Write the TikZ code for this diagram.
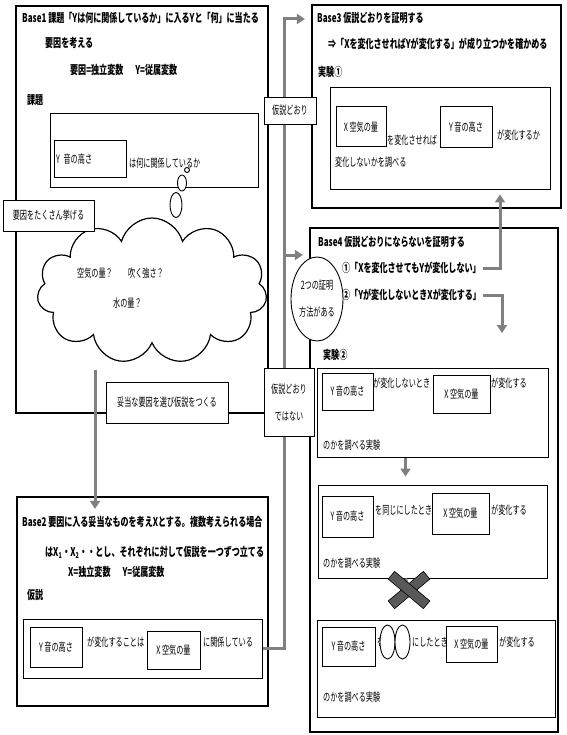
\documentclass[tikz,border=0pt]{standalone}
\usepackage{fontspec}
\newfontfamily\jpfont[FakeStretch=0.62]{Noto Sans CJK JP}
\newfontfamily\jpheadfont[FakeStretch=0.67]{Noto Sans CJK JP}
\usetikzlibrary{arrows.meta,positioning,fit,shapes.geometric,shapes.symbols}

\begin{document}
\begin{tikzpicture}[
    x=1pt, y=-1pt,
    font=\jpfont\fontsize{11.5}{13}\selectfont,
    % Stili
    basebox/.style={draw=black, line width=2.2pt, inner sep=0pt},
    innerbox/.style={draw=black, line width=1pt, inner sep=0pt},
    varbox/.style={draw=black, line width=1pt, fill=white, inner sep=2pt},
    labelbox/.style={draw=black, line width=0.6pt, fill=white, align=center, inner sep=2pt},
    head/.style={anchor=west, inner sep=0pt, font=\jpheadfont\bfseries\fontsize{12}{14}\selectfont},
    txt/.style={anchor=west, inner sep=0pt},
    bubble/.style={ellipse, draw=black, line width=0.9pt, fill=white, inner sep=0pt},
    gline/.style={draw=gray, line width=3pt},
    garrow/.style={gline, -{Triangle[length=8pt,width=10pt]}, shorten >=5pt},
    nobar/.style={rectangle, draw=black, line width=0.6pt, fill=gray!70!black, minimum width=46pt, minimum height=10pt}
  ]
  \useasboundingbox (0,0) rectangle (566,735);

  % Base1
  \node (base1) [basebox, fit={(16,6)(268,413)}] {};
  \node (b1h1) [head] at (22,18) {Base1\ 課題「Yは何に関係しているか」に入るYと「何」に当たる};
  \node (b1h2) [head] at (45,43) {要因を考える};
  \node (b1h3) [head] at (70,70) {要因=独立変数\quad Y=従属変数};
  \node (b1h4) [head] at (27,100) {課題};
  \node (task) [innerbox, fit={(50,114)(258,188)}] {};
  \node (task_y) [varbox, text width=68pt, minimum height=37pt] at (90,159) {Y\ 音の高さ};
  \node (task_q) [txt] at (129,163) {は何に関係しているか};

  % Nuvola
  \node (cloud) [cloud, cloud puffs=11, aspect=1.6, draw=black, line width=1.2pt, fill=white,
    minimum width=230pt, minimum height=146pt] at (152,291) {};
  \node (idea1) [txt] at (77,273) {空気の量？};
  \node (idea2) [txt] at (128,273) {吹く強さ？};
  \node (idea3) [txt] at (113,303) {水の量？};
  \node (bub1) [bubble, minimum width=5pt, minimum height=5pt] at (187,170) {};
  \node (bub2) [bubble, minimum width=9pt, minimum height=16pt] at (182,183) {};
  \node (bub3) [bubble, minimum width=12pt, minimum height=25pt] at (176,205) {};

  % Base2
  \node (base2) [basebox, fit={(17,497)(268,706)}] {};
  \node (b2h1) [head] at (22,522) {Base2\ 要因に入る妥当なものを考えXとする。複数考えられる場合};
  \node (b2h2) [head] at (45,552) {はX\textsubscript{1}・X\textsubscript{2}・・とし、それぞれに対して仮説を一つずつ立てる};
  \node (b2h3) [head] at (68,572) {X=独立変数\quad Y=従属変数};
  \node (b2h4) [head] at (27,595) {仮説};
  \node (hyp) [innerbox, fit={(23,619)(262,678)}] {};
  \node (hyp_y) [varbox, minimum width=52pt, minimum height=40pt] at (56,647) {Y\ 音の高さ};
  \node (hyp_t1) [txt] at (87,642) {が変化することは};
  \node (hyp_x) [varbox, minimum width=53pt, minimum height=38pt] at (173.5,650) {X\ 空気の量};
  \node (hyp_t2) [txt] at (203,642) {に関係している};

  % Base3
  \node (base3) [basebox, fit={(312,5)(561,208)}] {};
  \node (b3h1) [head] at (317,18) {Base3\ 仮説どおりを証明する};
  \node (b3h2) [head] at (328,44) {⇒「Xを変化させればYが変化する」が成り立つかを確かめる};
  \node (b3h3) [head] at (318,72) {実験①};
  \node (exp1) [innerbox, fit={(330,88)(550,190)}] {};
  \node (exp1_x) [varbox, minimum width=50pt, minimum height=40pt] at (361,127) {X\ 空気の量};
  \node (exp1_t1) [txt] at (387,140) {を変化させれば};
  \node (exp1_y) [varbox, minimum width=52pt, minimum height=41pt] at (466,127.5) {Y\ 音の高さ};
  \node (exp1_t2) [txt] at (497,135) {が変化するか};
  \node (exp1_t3) [txt] at (335,162) {変化しないかを調べる};

  % Base4
  \node (base4) [basebox, fit={(310,228)(558,732)}] {};
  \node (b4h1) [head] at (318,242) {Base4\ 仮説どおりにならないを証明する};
  \node (p1) [head] at (342,268) {①「Xを変化させてもYが変化しない」};
  \node (p2) [head] at (342,295) {②「Yが変化しないときXが変化する」};
  \node (b4h2) [head] at (323,355) {実験②};
  \node (two) [bubble, minimum width=52pt, minimum height=84pt, align=center] at (317,299) {2つの証明\\[14pt]方法がある};

  \node (e2a) [innerbox, fit={(317,368)(548,457)}] {};
  \node (e2a_y) [varbox, minimum width=51pt, minimum height=37pt] at (347.5,391.5) {Y\ 音の高さ};
  \node (e2a_t1) [txt] at (373,383) {が変化しないとき};
  \node (e2a_x) [varbox, minimum width=57pt, minimum height=38pt] at (461.5,394) {X\ 空気の量};
  \node (e2a_t2) [txt] at (491,383) {が変化する};
  \node (e2a_t3) [txt] at (323,445) {のかを調べる実験};

  \node (e2b) [innerbox, fit={(318,485)(547,578)}] {};
  \node (e2b_y) [varbox, minimum width=51pt, minimum height=41pt] at (347.5,516.5) {Y\ 音の高さ};
  \node (e2b_t1) [txt] at (375,510) {を同じにしたとき};
  \node (e2b_x) [varbox, minimum width=57pt, minimum height=41pt] at (460.5,513.5) {X\ 空気の量};
  \node (e2b_t2) [txt] at (491,510) {が変化する};
  \node (e2b_t3) [txt] at (323,563) {のかを調べる実験};

  \node (e2c) [innerbox, fit={(317,620)(555,717)}] {};
  \node (e2c_y) [varbox, minimum width=53pt, minimum height=39pt] at (348.5,646.5) {Y\ 音の高さ};
  \node (e2c_t1) [txt] at (377,642) {を};
  \node (blank1) [bubble, minimum width=15pt, minimum height=34pt] at (387.5,642) {};
  \node (blank2) [bubble, minimum width=15pt, minimum height=34pt] at (402.5,642) {};
  \node (e2c_t2) [txt] at (412,642) {にしたとき};
  \node (e2c_x) [varbox, minimum width=51pt, minimum height=36pt] at (471.5,644) {X\ 空気の量};
  \node (e2c_t3) [txt] at (499,642) {が変化する};
  \node (e2c_t4) [txt] at (323,697) {のかを調べる実験};

  % Collegamenti
  \coordinate (pick) at (95,370);
  \coordinate (trunk) at (284,19);
  \coordinate (fork) at (284,255);
  \coordinate (p2end) at (502,333);
  \node (nope) at (409,590) {};

  \draw [garrow, shorten >=0pt] (pick) -- ([yshift=-13pt]pick |- base2.north);
  \draw [garrow, shorten >=6pt] (hyp.east) -| (trunk) -- (trunk -| base3.west);
  \draw [garrow, shorten >=6pt] (fork) -- (fork -| base4.west);
  \draw [garrow, shorten >=4pt] ([xshift=2pt]p1.east) -| ([xshift=60pt]exp1.south);
  \draw [garrow, shorten >=0pt] ([xshift=2pt]p2.east) -| (p2end);
  \draw [garrow, shorten >=8pt] ([xshift=-27pt]e2a.south) -- ([xshift=-27pt]e2b.north);
  \draw [gline] ([xshift=-27pt]e2b.south) -- (nope.center);
  \node (nope1) [nobar, rotate=40] at (nope) {};
  \node (nope2) [nobar, rotate=-40] at (nope) {};

  % Etichette
  \node (many) [labelbox, minimum width=91pt, minimum height=31pt] at (48.5,215.5) {要因をたくさん挙げる};
  \node (choose) [labelbox, minimum width=122pt, minimum height=41pt] at (167,402.5) {妥当な要因を選び仮説をつくる};
  \node (yes) [labelbox, minimum width=52pt, minimum height=27pt] at (290,110.5) {仮説どおり};
  \node (no) [labelbox, minimum width=50pt, minimum height=68pt] at (289,402) {仮説どおり\\[14pt]ではない};
\end{tikzpicture}
\end{document}
